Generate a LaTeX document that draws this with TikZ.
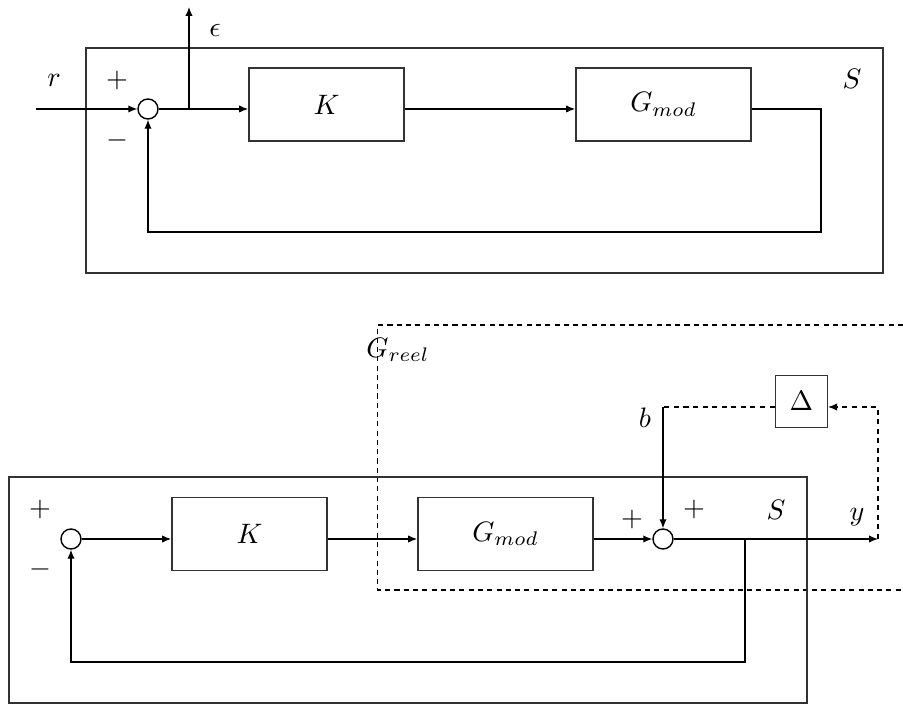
\documentclass[tikz,border=0pt]{standalone}
\usepackage{amsmath,amssymb}
\usetikzlibrary{arrows.meta, positioning, calc}
\tikzset{
  block/.style={draw=black!80, line width=0.5pt, minimum width=1.94cm,
    minimum height=0.91cm, inner sep=0pt},
  wideblock/.style={block, minimum width=2.19cm},
  deltablock/.style={block, minimum width=0.65cm, minimum height=0.65cm},
  sumnode/.style={circle, draw, line width=0.5pt, minimum size=0.25cm, inner sep=0pt},
  flow/.style={-{Latex[length=3.2pt, width=2.6pt]}, line width=0.45pt},
  dashline/.style={line width=0.45pt, dash pattern=on 1.8pt off 1.6pt},
  dashflow/.style={flow, dash pattern=on 1.8pt off 1.6pt},
  frame/.style={draw=black!80, line width=0.5pt},
  greelframe/.style={line width=0.5pt, dash pattern=on 1.8pt off 1.5pt},
  signlabel/.style={inner sep=0pt},
}
\begin{document}
\begin{tikzpicture}[x=0.0125cm, y=-0.0125cm]
  \useasboundingbox (0,0) rectangle (903,705);

  % ----------------------------------------------------------------
  % Top: nominal loop S
  % ----------------------------------------------------------------
  \draw[frame] (86,48) rectangle (883,273);
  \node[signlabel] (S1) at (852,79) {$S$};

  \node[sumnode] (sum1) at (148,109) {};
  \node[block] (K1) at (326.5,104.5) {$K$};
  \node[wideblock] (G1) at (663.5,104.5) {$G_{mod}$};
  \coordinate (rin) at (36,109);
  \coordinate (epsbr) at (189,109);
  \coordinate (epstop) at (189,7);
  \coordinate (fb1) at (821,232);

  \node[signlabel] (r) at (54,80) {$r$};
  \node[signlabel] (plus1) at (117,80) {$+$};
  \node[signlabel] (minus1) at (117,140) {$-$};
  \node[signlabel] (eps) at (215,30) {$\epsilon$};

  \draw[flow] (rin) -- (sum1);
  \draw[flow] (sum1) -- (sum1 -| K1.west);
  \draw[flow] (epsbr) -- (epstop);
  \draw[flow] (K1.east |- sum1) -- (G1.west |- sum1);
  \draw[flow] (G1.east |- sum1) -| (fb1) -| (sum1.south);

  % ----------------------------------------------------------------
  % Bottom: real plant with uncertainty Delta
  % ----------------------------------------------------------------
  \draw[greelframe] (903,325) -- (377.5,325) -- (377.5,590) -- (903,590);
  \node[signlabel] (greel) at (398,350) {$G_{reel}$};

  \draw[frame] (9,477) rectangle (807,703);
  \node[signlabel] (S2) at (776,510) {$S$};

  \node[sumnode] (sum2) at (71,539) {};
  \node[block] (K2) at (249.5,534) {$K$};
  \node[wideblock] (G2) at (505.5,534) {$G_{mod}$};
  \node[sumnode] (sum3) at (663,539) {};
  \node[deltablock] (delta) at (801.3,401.3) {$\Delta$};
  \coordinate (bcorner) at (663,407);
  \coordinate (yout) at (878,539);
  \coordinate (ybr) at (745,539);
  \coordinate (fb2) at (745,662);

  \node[signlabel] (plus2) at (40,509) {$+$};
  \node[signlabel] (minus2) at (40,569) {$-$};
  \node[signlabel] (plus3) at (632,519) {$+$};
  \node[signlabel] (plus4) at (694,509) {$+$};
  \node[signlabel] (b) at (645,418) {$b$};
  \node[signlabel] (y) at (857,517) {$y$};

  \draw[flow] (sum2) -- (sum2 -| K2.west);
  \draw[flow] (K2.east |- sum2) -- (G2.west |- sum2);
  \draw[flow] (G2.east |- sum3) -- (sum3);
  \draw[flow] (sum3) -- (yout);
  \draw[flow] (ybr) -- (fb2) -| (sum2.south);
  \draw[dashline] (delta.west |- bcorner) -- (bcorner);
  \draw[flow] (bcorner) -- (sum3.north);
  \draw[dashflow] (yout) |- (delta.east |- bcorner);

\end{tikzpicture}
\end{document}
